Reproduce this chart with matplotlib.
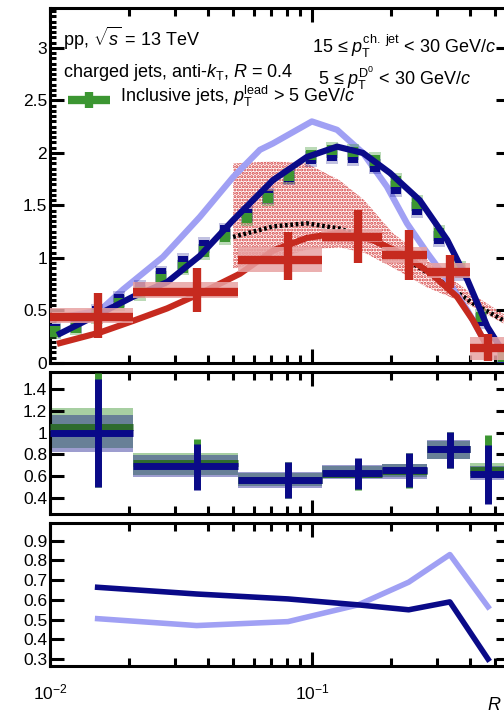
import numpy as np
import matplotlib
matplotlib.use('Agg')
import matplotlib.pyplot as plt
from matplotlib.patches import Rectangle
from matplotlib.ticker import LogLocator, NullFormatter, MultipleLocator, NullLocator

plt.rcParams['font.family'] = ['Liberation Sans', 'DejaVu Sans']
plt.rcParams['mathtext.fontset'] = 'custom'
plt.rcParams['mathtext.rm'] = 'Liberation Sans'
plt.rcParams['mathtext.it'] = 'Liberation Sans:italic'
plt.rcParams['mathtext.bf'] = 'Liberation Sans:bold'
plt.rcParams['hatch.linewidth'] = 1.5

# ---------------- data ----------------
incl_R = [0.01045, 0.01256, 0.01511, 0.01833, 0.02206, 0.02653, 0.03219, 0.03871,
          0.04655, 0.05648, 0.06793, 0.08169, 0.09913, 0.1192, 0.1434, 0.1740,
          0.2093, 0.2517, 0.3054, 0.3673, 0.4417, 0.5358]
incl_green = [0.30, 0.34, 0.45, 0.57, 0.67, 0.80, 0.91, 1.06, 1.20, 1.38, 1.57, 1.78,
              1.98, 2.03, 2.01, 1.93, 1.73, 1.52, 1.24, 0.90, 0.44, 0.06]
incl_navy = [0.32, 0.36, 0.49, 0.61, 0.72, 0.85, 0.97, 1.12, 1.26, 1.42, 1.59, 1.77,
             1.94, 1.97, 1.95, 1.87, 1.66, 1.46, 1.18, 0.86, 0.40, 0.05]

d0_edges = [0.01, 0.0207, 0.0522, 0.109, 0.185, 0.275, 0.40, 0.62]
d0_center = [0.0152, 0.0363, 0.0810, 0.150, 0.234, 0.336, 0.47]
d0_val = [0.44, 0.68, 0.98, 1.20, 1.03, 0.87, 0.14]
d0_err_lo = [0.24, 0.49, 0.79, 0.95, 0.79, 0.71, 0.02]
d0_err_hi = [0.67, 0.90, 1.25, 1.46, 1.27, 1.03, 0.28]
d0_sys_lo = [0.38, 0.62, 0.87, 1.15, 0.95, 0.81, 0.03]
d0_sys_hi = [0.52, 0.77, 1.10, 1.28, 1.10, 0.95, 0.25]

band_R = [0.05, 0.0709, 0.0954, 0.1275, 0.1584, 0.203, 0.275, 0.401, 0.535, 0.57]
band_top = [1.90, 1.92, 1.90, 1.74, 1.55, 1.24, 0.98, 0.67, 0.47, 0.45]
band_bot = [0.90, 0.98, 1.08, 1.10, 1.05, 0.91, 0.72, 0.55, 0.38, 0.36]

dot_R = [0.05, 0.0709, 0.0954, 0.1275, 0.1706, 0.2304, 0.3067, 0.4107, 0.5346, 0.57]
dot_val = [1.20, 1.30, 1.33, 1.28, 1.17, 0.98, 0.79, 0.57, 0.41, 0.38]

lb_R = [0.01027, 0.0155, 0.0190, 0.0270, 0.0373, 0.05, 0.0633, 0.0709, 0.0999, 0.1247,
        0.1565, 0.1931, 0.2304, 0.2751, 0.3285, 0.3922, 0.4684]
lb_val = [0.42, 0.50, 0.70, 1.01, 1.39, 1.77, 2.03, 2.09, 2.30, 2.22, 2.00, 1.68, 1.33,
          1.05, 0.79, 0.50, 0.15]

nv_R = [0.01092, 0.0155, 0.0207, 0.0280, 0.0373, 0.05, 0.0709, 0.0954, 0.1247, 0.1565,
        0.1984, 0.2577, 0.3285, 0.3922, 0.4684, 0.5229]
nv_val = [0.28, 0.47, 0.63, 0.77, 1.02, 1.36, 1.74, 1.96, 2.06, 2.00, 1.81, 1.55, 1.17,
          0.79, 0.34, 0.15]

rd_R = [0.01092, 0.0155, 0.0207, 0.0280, 0.0373, 0.0531, 0.0709, 0.0954, 0.1275, 0.1706,
        0.2167, 0.2822, 0.3581, 0.4107, 0.4684]
rd_val = [0.19, 0.29, 0.40, 0.52, 0.66, 0.85, 1.07, 1.19, 1.24, 1.17, 1.05, 0.86, 0.63,
          0.41, 0.15]

# ratio panel
rn_val = [1.00, 0.695, 0.56, 0.628, 0.659, 0.85, 0.62]
rn_lo = [0.496, 0.475, 0.40, 0.48, 0.496, 0.675, 0.34]
rn_hi = [1.495, 0.896, 0.73, 0.763, 0.81, 1.01, 0.89]
rg_val = [1.05, 0.72, 0.56, 0.62, 0.645, 0.85, 0.66]
rg_lo = [0.50, 0.48, 0.40, 0.47, 0.49, 0.675, 0.35]
rg_hi = [1.55, 0.94, 0.73, 0.76, 0.81, 1.01, 0.975]
rg_sys_lo = [0.86, 0.61, 0.51, 0.58, 0.59, 0.76, 0.60]
rg_sys_hi = [1.23, 0.81, 0.63, 0.69, 0.71, 0.92, 0.72]
rn_sys_lo = [0.82, 0.59, 0.49, 0.57, 0.575, 0.76, 0.56]
rn_sys_hi = [1.16, 0.79, 0.635, 0.70, 0.71, 0.93, 0.69]

# bottom panel
bl_light = [0.505, 0.47, 0.49, 0.575, 0.69, 0.83, 0.565]
bl_navy = [0.664, 0.63, 0.605, 0.575, 0.55, 0.59, 0.30]

GREEN = '#3c9632'
NAVY = '#0a0a88'
LBLUE = '#a0a0f4'
RED = '#c62a1f'
PINK = '#e8a2a2'

# ---------------- figure ----------------
fig = plt.figure(figsize=(5.04, 7.18), dpi=100)
W = 504.0
H = 718.0
def axpos(l, r, t, b):
    return [l / W, 1 - b / H, (r - l) / W, (b - t) / H]

ax1 = fig.add_axes(axpos(50, 510, 8, 363))
ax2 = fig.add_axes(axpos(50, 510, 372, 514))
ax3 = fig.add_axes(axpos(50, 510, 523, 666))

xlim = (0.01, 0.57)
for ax in (ax1, ax2, ax3):
    ax.set_xscale('log')
    ax.set_xlim(*xlim)
    for s in ax.spines.values():
        s.set_linewidth(2.2)
    ax.xaxis.set_major_locator(LogLocator(base=10, numticks=10))
    ax.xaxis.set_minor_locator(LogLocator(base=10, subs=np.arange(2, 10), numticks=20))
    ax.xaxis.set_minor_formatter(NullFormatter())
    ax.tick_params(which='major', direction='in', length=10, width=2.2, top=True, right=True,
                   labelsize=12.5)
    ax.tick_params(which='minor', direction='in', length=6, width=2.2, top=True, right=True)
    ax.tick_params(axis='y', which='major', pad=2)

ax1.tick_params(axis='x', labelbottom=False)
ax2.tick_params(axis='x', labelbottom=False)
ax3.tick_params(axis='x', which='major', pad=12)

# ---- top panel ----
ax1.set_ylim(0, 3.38)
ax1.yaxis.set_major_locator(MultipleLocator(0.5))
ax1.yaxis.set_minor_locator(MultipleLocator(0.05))
ax1.tick_params(axis='y', which='minor', length=4)
ax1.set_yticks([0, 0.5, 1, 1.5, 2, 2.5, 3])
ax1.set_yticklabels(['0', '0.5', '1', '1.5', '2', '2.5', '3'])

ax1.fill_between(band_R, band_bot, band_top, facecolor='none', edgecolor='#d43a3a',
                 hatch='.....', linewidth=0, zorder=1)
ax1.plot(dot_R, dot_val, color='black', lw=3.2, ls=(0, (0.6, 0.6)), zorder=2)
ax1.plot(lb_R, lb_val, color=LBLUE, lw=4.5, zorder=3)

f_out = 10 ** 0.024
f_in = 10 ** 0.018
for R, g, n in zip(incl_R, incl_green, incl_navy):
    ax1.add_patch(Rectangle((R / f_out, g - 0.075), R * f_out - R / f_out, 0.15,
                            facecolor=GREEN, alpha=0.35, lw=0, zorder=4))
    ax1.add_patch(Rectangle((R / f_out, n - 0.075), R * f_out - R / f_out, 0.15,
                            facecolor=NAVY, alpha=0.25, lw=0, zorder=4))
    ax1.add_patch(Rectangle((R / f_in, n - 0.05), R * f_in - R / f_in, 0.10,
                            facecolor=NAVY, lw=0, zorder=4.2))
    ax1.add_patch(Rectangle((R / f_in, g - 0.05), R * f_in - R / f_in, 0.10,
                            facecolor=GREEN, lw=0, zorder=4.3))

ax1.plot(nv_R, nv_val, color=NAVY, lw=4.5, zorder=5)
ax1.plot(rd_R, rd_val, color=RED, lw=4.5, zorder=6)

for i in range(len(d0_val)):
    x0, x1 = d0_edges[i], d0_edges[i + 1]
    ax1.add_patch(Rectangle((x0, d0_sys_lo[i]), x1 - x0, d0_sys_hi[i] - d0_sys_lo[i],
                            facecolor=PINK, alpha=0.85, lw=0, zorder=7))
    ax1.plot([x0, x1], [d0_val[i], d0_val[i]], color=RED, lw=6, solid_capstyle='butt', zorder=8)
    ax1.plot([d0_center[i], d0_center[i]], [d0_err_lo[i], d0_err_hi[i]], color=RED, lw=6,
             solid_capstyle='butt', zorder=8)

# texts
FS = 13
ax1.text(0.028, 0.893, r'pp, $\sqrt{s}$ = 13 TeV', transform=ax1.transAxes, fontsize=FS,
         va='baseline', ha='left')
ax1.text(0.028, 0.806, r'charged jets, anti-$k_{\rm T}$, $R$ = 0.4', transform=ax1.transAxes,
         fontsize=FS, va='baseline', ha='left')
ax1.text(0.152, 0.735, r'Inclusive jets, $p_{\rm T}^{\rm lead}$ > 5 GeV/$c$',
         transform=ax1.transAxes, fontsize=FS, va='baseline', ha='left')
ax1.text(0.570, 0.873, r'15 ≤ $p_{\rm T}^{\rm ch.\ jet}$ < 30 GeV/$c$', transform=ax1.transAxes,
         fontsize=FS, va='baseline', ha='left')
ax1.text(0.583, 0.783, r'5 ≤ $p_{\rm T}^{\rm D^0}$ < 30 GeV/$c$', transform=ax1.transAxes,
         fontsize=FS, va='baseline', ha='left')
# legend marker
ax1.plot([0.039, 0.130], [0.741, 0.741], transform=ax1.transAxes, color=GREEN, lw=6,
         solid_capstyle='butt', zorder=9)
ax1.plot([0.085, 0.085], [0.718, 0.764], transform=ax1.transAxes, color=GREEN, lw=6,
         solid_capstyle='butt', zorder=9)

# ---- middle panel ----
ax2.set_ylim(0.25, 1.56)
ax2.set_yticks([0.4, 0.6, 0.8, 1.0, 1.2, 1.4])
ax2.set_yticklabels(['0.4', '0.6', '0.8', '1', '1.2', '1.4'])
ax2.yaxis.set_minor_locator(NullLocator())
for i in range(len(rn_val)):
    x0, x1 = d0_edges[i], d0_edges[i + 1]
    ax2.add_patch(Rectangle((x0, rg_sys_lo[i]), x1 - x0, rg_sys_hi[i] - rg_sys_lo[i],
                            facecolor=GREEN, alpha=0.45, lw=0, zorder=1))
    ax2.add_patch(Rectangle((x0, rn_sys_lo[i]), x1 - x0, rn_sys_hi[i] - rn_sys_lo[i],
                            facecolor=NAVY, alpha=0.4, lw=0, zorder=2))
    ax2.plot([x0, x1], [rg_val[i], rg_val[i]], color='#2e6b2e', lw=5, solid_capstyle='butt', zorder=3)
    ax2.plot([d0_center[i], d0_center[i]], [rg_lo[i], rg_hi[i]], color=GREEN, lw=5,
             solid_capstyle='butt', zorder=3)
    ax2.plot([x0, x1], [rn_val[i], rn_val[i]], color=NAVY, lw=5, solid_capstyle='butt', zorder=4)
    ax2.plot([d0_center[i], d0_center[i]], [rn_lo[i], rn_hi[i]], color=NAVY, lw=5,
             solid_capstyle='butt', zorder=4)

# ---- bottom panel ----
ax3.set_ylim(0.265, 0.99)
ax3.set_yticks([0.3, 0.4, 0.5, 0.6, 0.7, 0.8, 0.9])
ax3.yaxis.set_minor_locator(NullLocator())
ax3.plot(d0_center, bl_light, color=LBLUE, lw=4)
ax3.plot(d0_center, bl_navy, color=NAVY, lw=4)

fig.text(487 / W, 1 - 706 / H, r'$R$', fontsize=13, ha='left', va='center')

fig.savefig('out.png', dpi=100)
